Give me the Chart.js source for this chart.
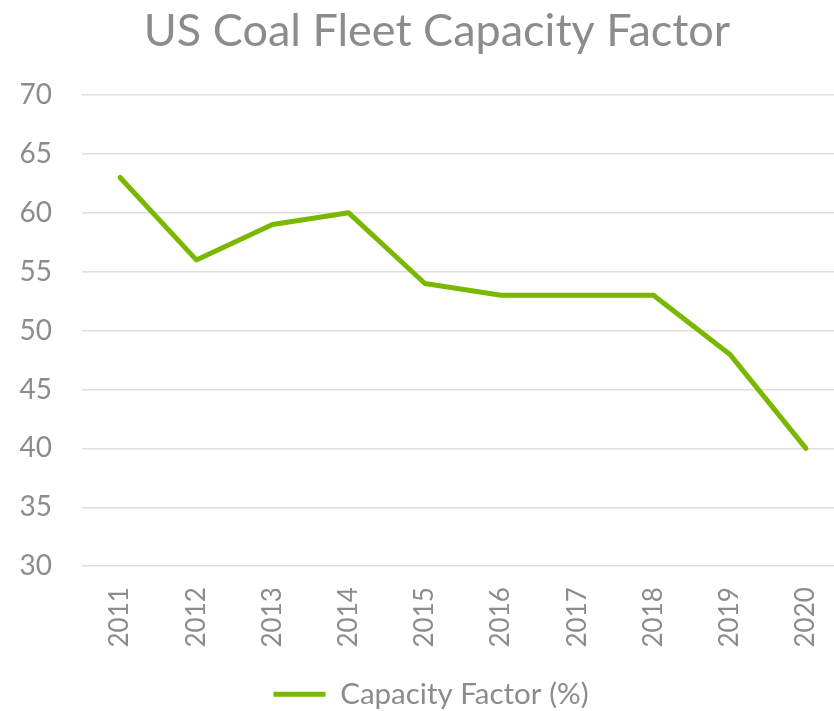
<!DOCTYPE html>
<html>
<head>
<meta charset="utf-8">
<script src="https://cdn.jsdelivr.net/npm/chart.js@4"></script>
<style>
html,body{margin:0;padding:0;background:#fff;overflow:hidden;}
#wrap{position:relative;width:874px;height:711px;}
</style>
</head>
<body>
<div id="wrap"><canvas id="c" width="874" height="711"></canvas></div>
<script>
const categories = ["2011","2012","2013","2014","2015","2016","2017","2018","2019","2020"];
const capacityFactor = [63, 56, 59, 60, 54, 53, 53, 53, 48, 40];
const seriesName = "Capacity Factor (%)";
const chartTitle = "US Coal Fleet Capacity Factor";
const yMin = 30, yMax = 70, yStep = 5;

const gray = "#8c8c8c";
const green = "#7ab800";
const font = "Lato, 'Open Sans', sans-serif";

// centre title over the full (uncropped) chart width
const centerTitle = {
  id: "centerTitle",
  afterLayout(chart) {
    if (chart.titleBlock) {
      chart.titleBlock.left = 30;
    }
  }
};

new Chart(document.getElementById("c"), {
  type: "line",
  plugins: [centerTitle],
  data: {
    labels: categories,
    datasets: [{
      label: seriesName,
      data: capacityFactor,
      borderColor: green,
      backgroundColor: green,
      borderWidth: 5,
      pointRadius: 0,
      tension: 0,
      borderCapStyle: "round",
      borderJoinStyle: "round",
      fill: false
    }]
  },
  options: {
    responsive: false,
    animation: false,
    devicePixelRatio: 1,
    layout: { padding: { left: 18, right: 30, top: 4, bottom: -8 } },
    plugins: {
      title: {
        display: true,
        text: chartTitle,
        color: gray,
        font: { family: font, size: 45, weight: "normal" },
        padding: { top: 0, bottom: 37 }
      },
      legend: {
        display: true,
        position: "bottom",
        labels: {
          color: gray,
          font: { family: font, size: 29.5 },
          boxWidth: 52,
          boxHeight: 0,
          padding: 8,
          generateLabels: (chart) => [{
            text: seriesName,
            strokeStyle: green,
            fillStyle: green,
            fontColor: gray,
            lineWidth: 5,
            lineCap: "round",
            datasetIndex: 0
          }]
        }
      },
      tooltip: { enabled: false }
    },
    scales: {
      x: {
        offset: true,
        afterFit: (scale) => { scale.height += 11; },
        grid: { display: false },
        border: { display: false },
        ticks: {
          color: gray,
          font: { family: font, size: 26 },
          minRotation: 90,
          maxRotation: 90,
          padding: 13
        }
      },
      y: {
        min: yMin,
        max: yMax,
        afterFit: (scale) => { scale.width = 64; },
        grid: { color: "#dedede", lineWidth: 1.5, drawTicks: false },
        border: { display: false },
        ticks: {
          stepSize: yStep,
          color: gray,
          font: { family: font, size: 28 },
          padding: 30
        }
      }
    }
  }
});
</script>
</body>
</html>
